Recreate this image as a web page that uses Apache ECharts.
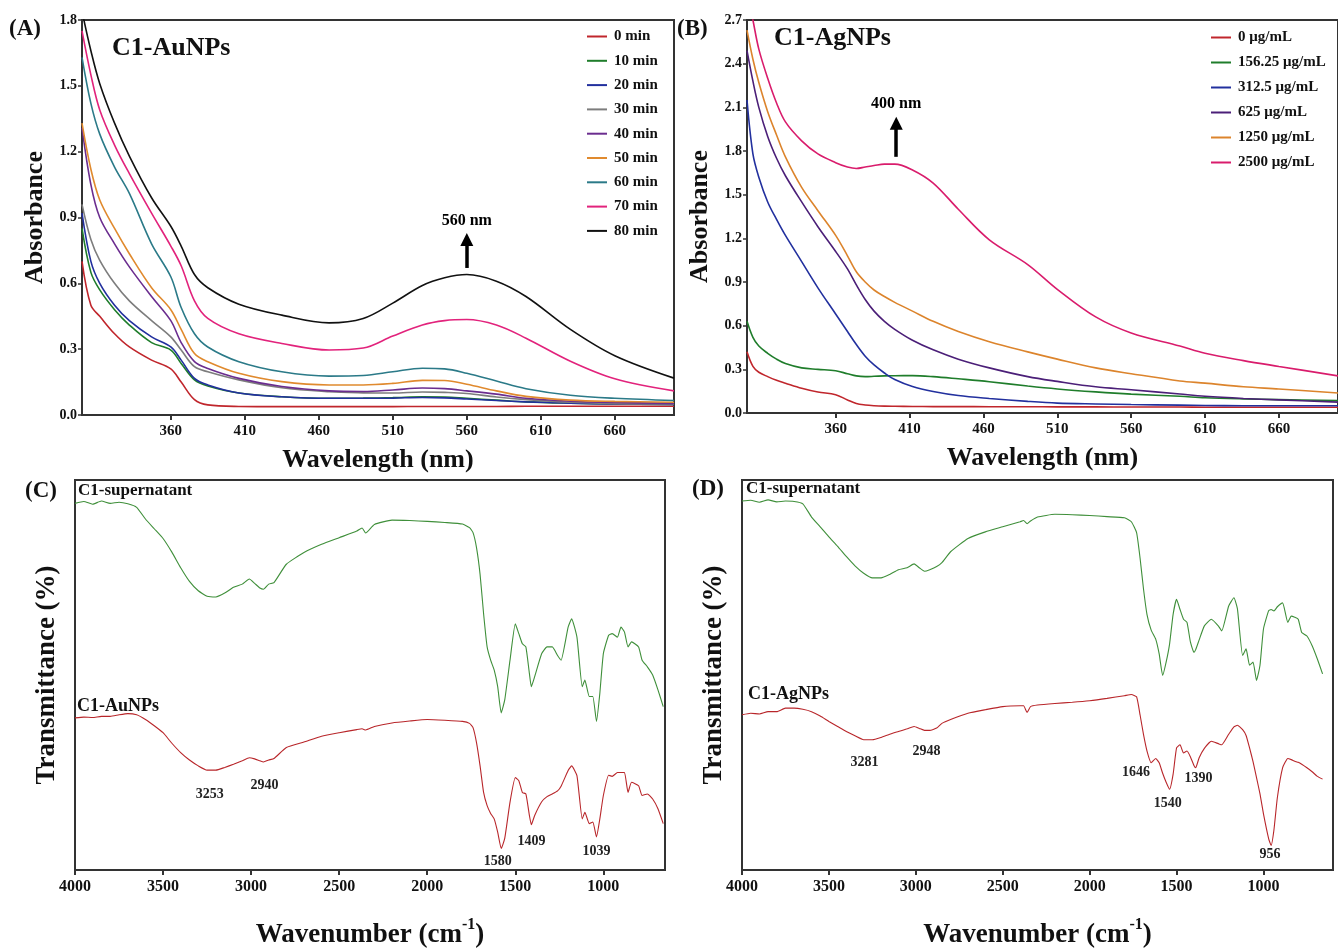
<!DOCTYPE html>
<html>
<head>
<meta charset="utf-8">
<title>C1 nanoparticles UV-Vis and FTIR</title>
<script src="https://cdn.jsdelivr.net/npm/echarts@6/dist/echarts.min.js"></script>
<style>
  html, body { margin: 0; padding: 0; background: #fff; }
  #main { width: 1338px; height: 950px; }
</style>
</head>
<body>
<div id="main"></div>
<script>
// ---- (A) C1-AuNPs, absorbance vs wavelength ----
const waveA = [300, 306, 312, 322, 332, 347, 360, 367, 376, 385, 406, 435, 467, 490, 510, 530, 545, 560, 580, 600, 630, 660, 700]
const timeNames = ['0 min', '10 min', '20 min', '30 min', '40 min', '50 min', '60 min', '70 min', '80 min']
const absA0  = [0.70, 0.50, 0.45, 0.37, 0.31, 0.25, 0.21, 0.15, 0.07, 0.046, 0.039, 0.038, 0.038, 0.038, 0.038, 0.039, 0.039, 0.039, 0.039, 0.040, 0.040, 0.040, 0.040]
const absA10 = [0.85, 0.65, 0.57, 0.48, 0.41, 0.33, 0.296, 0.235, 0.16, 0.132, 0.10, 0.083, 0.076, 0.077, 0.079, 0.083, 0.082, 0.076, 0.068, 0.060, 0.054, 0.050, 0.048]
const absA20 = [0.92, 0.70, 0.60, 0.50, 0.43, 0.356, 0.31, 0.25, 0.167, 0.137, 0.10, 0.083, 0.076, 0.076, 0.077, 0.080, 0.078, 0.073, 0.066, 0.060, 0.054, 0.050, 0.048]
const absA30 = [0.96, 0.80, 0.705, 0.60, 0.52, 0.43, 0.356, 0.296, 0.22, 0.197, 0.16, 0.124, 0.106, 0.101, 0.100, 0.105, 0.103, 0.098, 0.082, 0.070, 0.058, 0.052, 0.050]
const absA40 = [1.31, 1.05, 0.90, 0.78, 0.675, 0.54, 0.43, 0.33, 0.243, 0.212, 0.167, 0.13, 0.11, 0.107, 0.114, 0.123, 0.12, 0.11, 0.095, 0.076, 0.063, 0.057, 0.053]
const absA50 = [1.33, 1.12, 0.98, 0.85, 0.735, 0.58, 0.48, 0.39, 0.28, 0.243, 0.19, 0.152, 0.137, 0.137, 0.144, 0.158, 0.157, 0.14, 0.11, 0.085, 0.068, 0.062, 0.058]
const absA60 = [1.63, 1.42, 1.28, 1.13, 1.01, 0.78, 0.63, 0.49, 0.37, 0.31, 0.243, 0.197, 0.177, 0.18, 0.197, 0.213, 0.21, 0.19, 0.155, 0.12, 0.09, 0.076, 0.066]
const absA70 = [1.75, 1.55, 1.39, 1.23, 1.10, 0.92, 0.77, 0.68, 0.52, 0.44, 0.37, 0.326, 0.296, 0.305, 0.36, 0.41, 0.43, 0.435, 0.41, 0.35, 0.245, 0.165, 0.11]
const absA80 = [1.84, 1.66, 1.51, 1.33, 1.18, 0.99, 0.86, 0.77, 0.64, 0.58, 0.505, 0.455, 0.42, 0.44, 0.51, 0.59, 0.625, 0.64, 0.61, 0.54, 0.39, 0.27, 0.168]
const colorsA = ['#c0262c', '#1f7d2b', '#22309e', '#7d7d7d', '#6b2d8f', '#e08a2e', '#2b7a88', '#e2237c', '#111111']

// ---- (B) C1-AgNPs, absorbance vs wavelength ----
const waveB = [300, 304, 308, 314, 320, 326, 337, 348, 360, 368, 374, 380, 386, 393, 400, 412, 426, 443, 464, 490, 510, 536, 560, 593, 610, 636, 660, 700]
const doseNames = ['0 μg/mL', '156.25 μg/mL', '312.5 μg/mL', '625 μg/mL', '1250 μg/mL', '2500 μg/mL']
const absB0    = [0.42, 0.32, 0.28, 0.25, 0.225, 0.205, 0.17, 0.144, 0.126, 0.09, 0.065, 0.055, 0.05, 0.047, 0.046, 0.045, 0.044, 0.044, 0.043, 0.043, 0.042, 0.042, 0.041, 0.041, 0.040, 0.040, 0.040, 0.040]
const absB156  = [0.63, 0.52, 0.46, 0.41, 0.37, 0.34, 0.31, 0.30, 0.29, 0.27, 0.255, 0.25, 0.252, 0.255, 0.256, 0.257, 0.25, 0.235, 0.215, 0.185, 0.165, 0.145, 0.13, 0.115, 0.105, 0.097, 0.092, 0.085]
const absB312  = [2.15, 1.78, 1.62, 1.45, 1.33, 1.22, 1.04, 0.86, 0.68, 0.56, 0.47, 0.39, 0.33, 0.275, 0.23, 0.182, 0.148, 0.12, 0.10, 0.08, 0.068, 0.062, 0.058, 0.054, 0.052, 0.05, 0.05, 0.05]
const absB625  = [2.49, 2.28, 2.10, 1.90, 1.75, 1.63, 1.45, 1.28, 1.11, 0.99, 0.88, 0.78, 0.70, 0.63, 0.575, 0.50, 0.434, 0.37, 0.31, 0.25, 0.217, 0.18, 0.16, 0.13, 0.115, 0.10, 0.09, 0.075]
const absB1250 = [2.63, 2.43, 2.27, 2.07, 1.91, 1.76, 1.55, 1.39, 1.22, 1.08, 0.97, 0.90, 0.845, 0.80, 0.76, 0.70, 0.63, 0.56, 0.49, 0.42, 0.37, 0.31, 0.27, 0.22, 0.205, 0.18, 0.165, 0.137]
const absB2500 = [2.9, 2.7, 2.5, 2.30, 2.13, 2.0, 1.87, 1.78, 1.72, 1.69, 1.68, 1.69, 1.70, 1.71, 1.71, 1.67, 1.58, 1.40, 1.19, 1.02, 0.85, 0.66, 0.55, 0.46, 0.41, 0.36, 0.32, 0.255]
const colorsB = ['#c0262c', '#1f7d2b', '#22309e', '#4b1f78', '#dc842c', '#d91c6c']

const waveTicks = [360, 410, 460, 510, 560, 610, 660]

// ---- (C) FTIR, C1-supernatant vs C1-AuNPs ----
const wnC = [4000, 3950, 3900, 3850, 3800, 3750, 3700, 3650, 3600, 3550, 3500, 3450, 3400, 3350, 3300, 3250, 3200, 3150, 3100, 3050,
  3010, 2980, 2950, 2930, 2900, 2870, 2800, 2700, 2600, 2500, 2400, 2370, 2350, 2300, 2200, 2100, 2000, 1900, 1800, 1760,
  1740, 1720, 1700, 1680, 1660, 1640, 1620, 1600, 1580, 1560, 1530, 1500, 1480, 1460, 1440, 1420, 1409, 1390, 1350, 1320,
  1290, 1260, 1240, 1200, 1180, 1150, 1120, 1105, 1080, 1060, 1039, 1020, 1000, 970, 950, 920, 900, 880, 860, 840,
  800, 780, 750, 720, 690, 660]
const trC_sup = [94, 94.5, 93.8, 94.6, 94, 94.3, 93.9, 93, 90, 87.5, 85, 81.5, 77.5, 74, 71.6, 70.2, 70, 71, 72.5, 73.3,
  74.6, 73.5, 72.3, 72, 73.3, 73.7, 78.4, 81.4, 83.5, 85.2, 86.9, 87.7, 86.4, 88.6, 89.7, 89.6, 89.4, 89.1, 88.7, 87.8,
  86.5, 82.6, 75.8, 65.7, 57.2, 53.8, 51.3, 47, 40.3, 43.6, 53.8, 63.1, 60.6, 58, 57.2, 50.4, 47, 49.6, 55.5, 57.2,
  57.2, 55, 53.8, 62.3, 64.4, 59.7, 47, 48.7, 44.5, 44.5, 38.1, 45.3, 55.5, 60.2, 60.6, 59.7, 62.3, 61, 57.2, 58.5,
  57.2, 53.8, 52.1, 50, 46.2, 41.9]
const trC_au = [39, 39.2, 39.1, 39.4, 39.4, 39.8, 40.1, 39.8, 38.6, 37, 35.2, 32.5, 30.1, 28.2, 26.7, 25.6, 25.6, 26.3, 27.1, 28,
  28.8, 28.5, 28, 27.7, 28.2, 28.6, 31.4, 32.8, 34.3, 35.2, 36, 36.2, 35.9, 36.8, 37.7, 38.2, 38.6, 38.4, 38.1, 37.6,
  36.5, 32.6, 26.7, 19.9, 16.5, 14.5, 13.1, 9.7, 5.5, 8.1, 17.4, 23.7, 22.9, 19.9, 19.5, 14, 11.6, 14, 17.5, 18.8,
  19.5, 20.3, 21.5, 25.5, 26.7, 24.2, 13.1, 14.8, 11.9, 12.3, 8.5, 13.1, 19.1, 24.3, 24, 25, 25, 25, 19.9, 22.5,
  21.6, 19.1, 19.5, 18.2, 15.7, 11.9]
const peakTextC = ['3253', '2940', '1580', '1409', '1039']
const peakPosC = [[3235, 19.3], [2924, 21.8], [1599, 2.3], [1408, 7.4], [1039, 4.8]]

// ---- (D) FTIR, C1-supernatant vs C1-AgNPs ----
const wnD = [4000, 3950, 3900, 3850, 3800, 3750, 3700, 3650, 3600, 3550, 3500, 3450, 3400, 3350, 3300, 3250, 3200, 3150, 3100, 3050,
  3010, 2980, 2950, 2920, 2880, 2850, 2800, 2700, 2600, 2500, 2400, 2380, 2360, 2340, 2300, 2200, 2100, 2000, 1900, 1800,
  1760, 1730, 1710, 1690, 1670, 1646, 1620, 1600, 1580, 1560, 1540, 1520, 1500, 1480, 1460, 1440, 1420, 1400, 1390, 1370,
  1340, 1300, 1260, 1240, 1200, 1170, 1150, 1120, 1100, 1080, 1060, 1040, 1020, 1000, 970, 956, 940, 920, 890, 860,
  840, 820, 800, 780, 750, 720, 690, 660]
const trD_sup = [94.6, 94.8, 94.3, 94.9, 94.4, 94.6, 94.5, 93.9, 90.5, 88, 85.4, 83, 80.4, 78, 76.1, 74.9, 74.9, 75.8, 77, 77.5,
  78.5, 77.5, 76.6, 77, 77.8, 78.8, 81.6, 85, 86.7, 88, 89.3, 89.6, 88.8, 89.5, 90.5, 91.2, 91.1, 90.9, 90.6, 90.3,
  89.3, 86.5, 80, 72, 65.5, 61.5, 59.2, 55.4, 49.9, 53.3, 58, 65.5, 69.4, 66.8, 64.3, 63.5, 58.4, 55.8, 56.5, 59,
  62.6, 64.3, 62.6, 61.3, 67.7, 69.8, 67, 55, 56.7, 52.5, 53.3, 48.6, 52.5, 61.8, 66.5, 66.8, 66.4, 67.5, 68.5, 63.5,
  65.1, 64.8, 64.3, 60.9, 60, 57.5, 54.1, 50.3]
const trD_ag = [39.8, 40.2, 40, 40.6, 40.6, 41.5, 41.5, 41.2, 40.6, 39.5, 38.1, 36.8, 35.5, 34.4, 33.4, 33.4, 34, 34.8, 35.5, 36.2,
  36.8, 36.3, 35.8, 35.8, 36.4, 37.6, 38.6, 40.2, 41.1, 41.9, 42.1, 42.1, 40.4, 41.9, 42.3, 42.7, 43, 43.4, 44, 44.7,
  45, 44.4, 39.8, 34.7, 30.5, 27.5, 28.6, 27.5, 24.8, 22.5, 20.7, 24.5, 31.3, 32.1, 30, 30.5, 29, 26.8, 26.2, 28.8,
  31.2, 33, 32.4, 32.1, 34.8, 36.7, 37.1, 36, 34.5, 31.3, 27.8, 23.7, 19.5, 14.4, 8, 6.3, 10.2, 18.6, 26.2, 28.6,
  28.3, 27.9, 27.6, 27.1, 26.2, 25.2, 24, 23.3]
const peakTextD = ['3281', '2948', '1646', '1540', '1390', '956']
const peakPosD = [[3295, 27.5], [2938, 30.5], [1733, 24.9], [1550, 17.1], [1374, 23.6], [963, 4.1]]

const wnTicks = [4000, 3500, 3000, 2500, 2000, 1500, 1000]

const serif = '"Liberation Serif", "Times New Roman", serif'
const boxColor = '#333'

function zip(xs, ys) {
  return xs.map((x, i) => [x, ys[i]])
}

function boldText(size, extra) {
  return Object.assign({ fontFamily: serif, fontWeight: 'bold', fontSize: size, color: '#111' }, extra || {})
}

function waveAxis(gridIndex) {
  return {
    gridIndex: gridIndex,
    type: 'value',
    min: 300,
    max: 700,
    name: 'Wavelength (nm)',
    nameLocation: 'middle',
    nameGap: 32,
    nameTextStyle: boldText(26),
    axisLine: { lineStyle: { color: boxColor, width: 2 } },
    axisTick: { customValues: waveTicks, length: 5, lineStyle: { color: boxColor, width: 2 } },
    axisLabel: Object.assign({ customValues: waveTicks, margin: 9 }, boldText(15)),
    splitLine: { show: false }
  }
}

function absAxis(gridIndex, max) {
  return {
    gridIndex: gridIndex,
    type: 'value',
    min: 0,
    max: max,
    interval: 0.3,
    name: 'Absorbance',
    nameLocation: 'middle',
    nameGap: 34,
    nameTextStyle: boldText(26),
    axisLine: { show: true, lineStyle: { color: boxColor, width: 2 } },
    axisTick: { show: true, length: 4, lineStyle: { color: boxColor, width: 1.5 } },
    axisLabel: Object.assign({ margin: 5, formatter: v => v.toFixed(1) }, boldText(14)),
    splitLine: { show: false }
  }
}

function wnAxis(gridIndex, min) {
  return {
    gridIndex: gridIndex,
    type: 'value',
    inverse: true,
    min: min,
    max: 4000,
    name: '{a|Wavenumber (cm}{s|-1}{a|)}',
    nameLocation: 'middle',
    nameGap: 47,
    nameTextStyle: {
      rich: {
        a: boldText(27, { lineHeight: 32, verticalAlign: 'bottom' }),
        s: boldText(16, { lineHeight: 32, verticalAlign: 'top' })
      }
    },
    axisLine: { lineStyle: { color: boxColor, width: 2 } },
    axisTick: { customValues: wnTicks, length: 5, lineStyle: { color: boxColor, width: 2 } },
    axisLabel: Object.assign({ customValues: wnTicks, margin: 9, formatter: v => String(v) }, boldText(16)),
    splitLine: { show: false }
  }
}

function transAxis(gridIndex) {
  return {
    gridIndex: gridIndex,
    type: 'value',
    min: 0,
    max: 100,
    name: 'Transmittance (%)',
    nameLocation: 'middle',
    nameGap: 14,
    nameTextStyle: boldText(27),
    axisLine: { show: true, lineStyle: { color: boxColor, width: 2 } },
    axisTick: { show: false },
    axisLabel: { show: false },
    splitLine: { show: false }
  }
}

function uvLine(name, xs, ys, color, axis) {
  return {
    name: name,
    type: 'line',
    xAxisIndex: axis,
    yAxisIndex: axis,
    data: zip(xs, ys),
    symbol: 'none',
    smooth: 0.35,
    lineStyle: { color: color, width: 1.6 },
    itemStyle: { color: color }
  }
}

function irLine(name, xs, ys, color, axis) {
  return {
    name: name,
    type: 'line',
    xAxisIndex: axis,
    yAxisIndex: axis,
    data: zip(xs, ys),
    symbol: 'none',
    smooth: 0.15,
    lineStyle: { color: color, width: 1.1 },
    itemStyle: { color: color }
  }
}

function peakMarks(texts, pos) {
  return {
    symbol: 'circle',
    symbolSize: 0,
    silent: true,
    label: Object.assign({ show: true, position: 'inside', formatter: p => p.name }, boldText(14, { color: '#222' })),
    data: pos.map((p, i) => ({ name: texts[i], coord: p }))
  }
}

function arrowMark(x, y0, y1, text) {
  return {
    silent: true,
    symbol: ['none', 'triangle'],
    symbolSize: 13,
    lineStyle: { color: '#000', width: 3.5, type: 'solid' },
    label: Object.assign({ show: true, position: 'end', distance: 11, formatter: text }, boldText(16, { color: '#000' })),
    data: [[{ coord: [x, y0] }, { coord: [x, y1] }]]
  }
}

const absAData = [absA0, absA10, absA20, absA30, absA40, absA50, absA60, absA70, absA80]
const absBData = [absB0, absB156, absB312, absB625, absB1250, absB2500]

const seriesA = absAData.map((ys, i) => uvLine(timeNames[i], waveA, ys, colorsA[i], 0))
seriesA[8].markLine = arrowMark(560, 0.67, 0.80, '560 nm')
const seriesB = absBData.map((ys, i) => uvLine(doseNames[i], waveB, ys, colorsB[i], 1))
seriesB[5].markLine = arrowMark(401, 1.76, 1.99, '400 nm')

const seriesC = [
  irLine('C1-supernatant (C)', wnC, trC_sup, '#3f8f3a', 2),
  irLine('C1-AuNPs (C)', wnC, trC_au, '#b8262a', 2)
]
seriesC[1].markPoint = peakMarks(peakTextC, peakPosC)
const seriesD = [
  irLine('C1-supernatant (D)', wnD, trD_sup, '#3f8f3a', 3),
  irLine('C1-AgNPs (D)', wnD, trD_ag, '#b8262a', 3)
]
seriesD[1].markPoint = peakMarks(peakTextD, peakPosD)

function gridBox(left, top, width, height) {
  return { left: left, top: top, width: width, height: height, show: true, borderColor: boxColor, borderWidth: 2, containLabel: false }
}

function label(text, left, top, size) {
  return { type: 'text', left: left, top: top, style: { text: text, font: 'bold ' + size + 'px ' + serif, fill: '#111' } }
}

function lineLegend(names, left, top, gap) {
  return {
    data: names,
    orient: 'vertical',
    left: left,
    top: top,
    icon: 'rect',
    itemWidth: 20,
    itemHeight: 2,
    itemGap: gap,
    padding: 0,
    textStyle: boldText(15, { lineHeight: 14, padding: [0, 0, 0, 2] })
  }
}

const chart = echarts.init(document.getElementById('main'))
const options = {
  animation: false,
  backgroundColor: '#fff',
  grid: [
    gridBox(82, 20, 592, 395),
    gridBox(747, 20, 593, 393),
    gridBox(75, 480, 590, 394),
    gridBox(742, 480, 591, 394)
  ],
  xAxis: [waveAxis(0), waveAxis(1), wnAxis(2, 650), wnAxis(3, 600)],
  yAxis: [absAxis(0, 1.8), absAxis(1, 2.7), transAxis(2), transAxis(3)],
  legend: [
    lineLegend(timeNames, 587, 29, 9.3),
    lineLegend(doseNames, 1211, 30, 10)
  ],
  graphic: [
    label('(A)', 9, 18, 23),
    label('(B)', 677, 18, 23),
    label('(C)', 25, 480, 23),
    label('(D)', 692, 478, 23),
    label('C1-AuNPs', 112, 35, 26),
    label('C1-AgNPs', 774, 25, 26),
    label('C1-supernatant', 78, 482, 17),
    label('C1-AuNPs', 77, 697, 18),
    label('C1-supernatant', 746, 480, 17),
    label('C1-AgNPs', 748, 685, 18)
  ],
  series: seriesA.concat(seriesB, seriesC, seriesD)
}
chart.setOption(options)
</script>
</body>
</html>
